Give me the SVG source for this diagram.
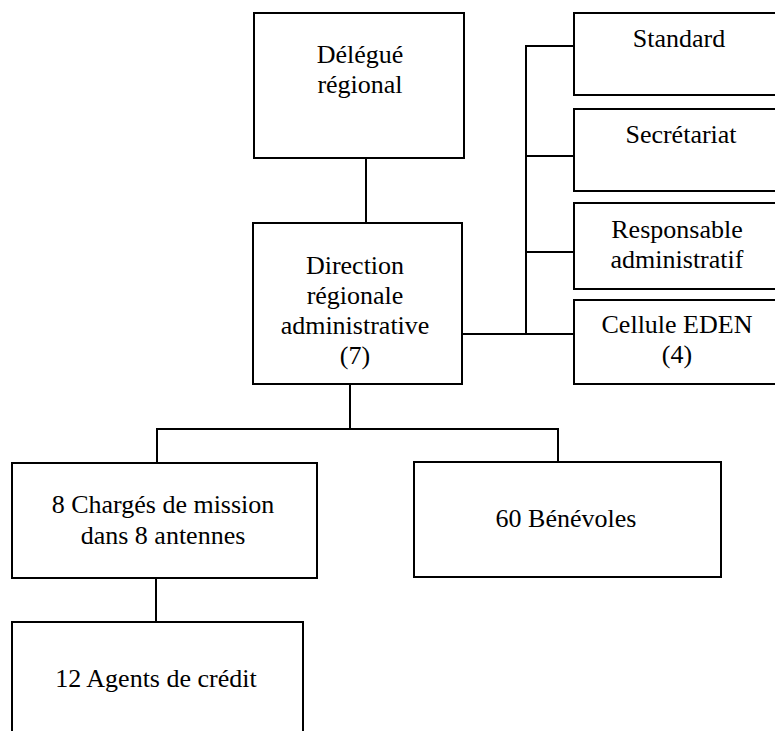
<svg xmlns="http://www.w3.org/2000/svg" width="775" height="731" viewBox="0 0 775 731">
<style>
.box{fill:#fff;stroke:#000;stroke-width:2}
.conn line{stroke:#000;stroke-width:2;fill:none}
.lbl{font-family:"Liberation Serif","Times New Roman",serif;font-size:26px;fill:#000;text-anchor:middle}
</style>
<rect x="0" y="0" width="775" height="731" fill="#fff"/>
<g class="conn" id="connectors">
<line x1="366" y1="158" x2="366" y2="223"/>
<line x1="526" y1="46" x2="526" y2="334"/>
<line x1="525" y1="46" x2="574" y2="46"/>
<line x1="526" y1="156" x2="574" y2="156"/>
<line x1="526" y1="252" x2="574" y2="252"/>
<line x1="462" y1="334" x2="574" y2="334"/>
<line x1="350" y1="384" x2="350" y2="429"/>
<line x1="157" y1="429" x2="558" y2="429"/>
<line x1="157" y1="428" x2="157" y2="463"/>
<line x1="558" y1="428" x2="558" y2="462"/>
<line x1="156" y1="578" x2="156" y2="622"/>
</g>
<g id="delegue"><rect class="box" x="254" y="13" width="210" height="145"/><text class="lbl" x="360" y="63">Délégué</text><text class="lbl" x="360" y="93">régional</text></g>
<g id="standard"><rect class="box" x="574" y="13" width="210" height="82"/><text class="lbl" x="679" y="47">Standard</text></g>
<g id="secretariat"><rect class="box" x="574" y="109" width="210" height="82"/><text class="lbl" x="681" y="143">Secrétariat</text></g>
<g id="responsable"><rect class="box" x="574" y="203" width="210" height="86"/><text class="lbl" x="677" y="238">Responsable</text><text class="lbl" x="677" y="268">administratif</text></g>
<g id="eden"><rect class="box" x="574" y="300" width="210" height="84"/><text class="lbl" x="677" y="333">Cellule EDEN</text><text class="lbl" x="677" y="363">(4)</text></g>
<g id="direction"><rect class="box" x="253" y="223" width="209" height="161"/><text class="lbl" x="355" y="274">Direction</text><text class="lbl" x="355" y="304">régionale</text><text class="lbl" x="355" y="334">administrative</text><text class="lbl" x="355" y="364">(7)</text></g>
<g id="charges"><rect class="box" x="12" y="463" width="305" height="115"/><text class="lbl" x="163" y="513">8 Chargés de mission</text><text class="lbl" x="163" y="544">dans 8 antennes</text></g>
<g id="benevoles"><rect class="box" x="414" y="462" width="307" height="115"/><text class="lbl" x="566" y="527">60 Bénévoles</text></g>
<g id="agents"><rect class="box" x="12" y="622" width="291" height="130"/><text class="lbl" x="156" y="687">12 Agents de crédit</text></g>
</svg>
